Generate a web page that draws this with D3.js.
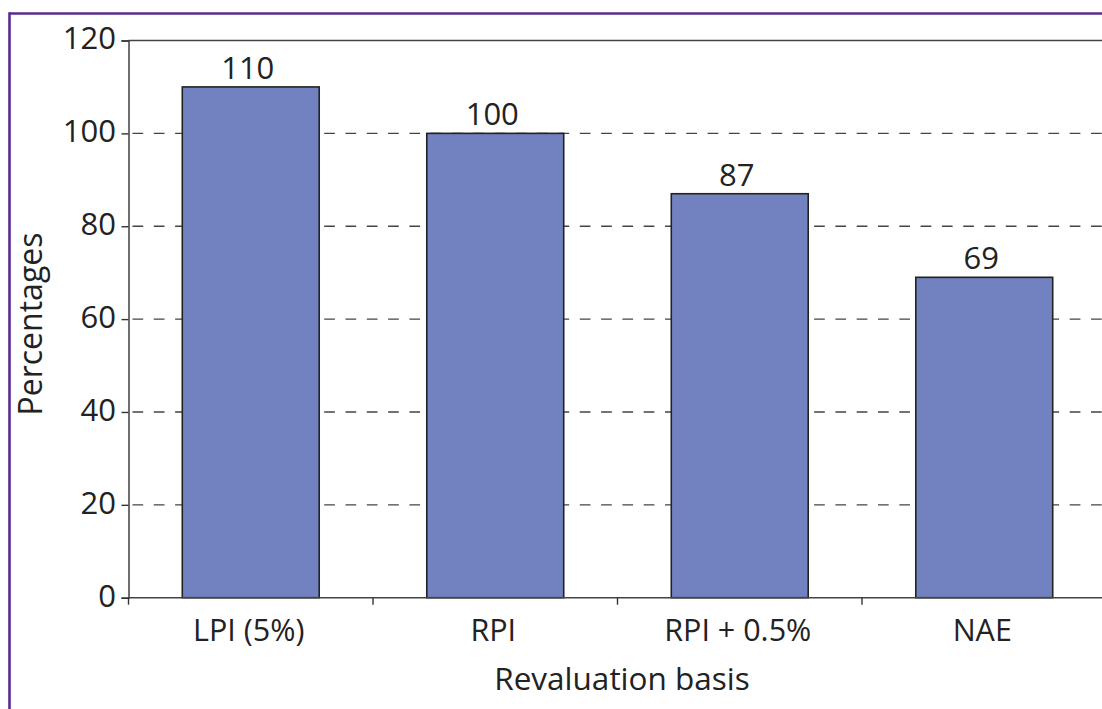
<!DOCTYPE html>
<html><head><meta charset="utf-8">
<script src="https://cdn.jsdelivr.net/npm/d3@7"></script>
<style>
html,body{margin:0;padding:0;background:#fff;}
svg{display:block;font-family:"Open Sans",sans-serif;}
</style></head>
<body>
<script>
const categories = ["LPI (5%)", "RPI", "RPI + 0.5%", "NAE"];
const values = [110, 100, 87, 69];
const yTicks = [0, 20, 40, 60, 80, 100, 120];
const yTitle = "Percentages";
const xTitle = "Revaluation basis";

const W = 1102, H = 709;
const plotL = 128.5, plotR = 1106.5, plotT = 40.5, plotB = 597.7;

const svg = d3.select("body").append("svg").attr("width", W).attr("height", H);

// outer purple frame
svg.append("line").attr("x1", 9.5).attr("x2", W).attr("y1", 13.5).attr("y2", 13.5)
  .attr("stroke", "#5b2a90").attr("stroke-width", 2.6);
svg.append("line").attr("x1", 9.5).attr("x2", 9.5).attr("y1", 12.2).attr("y2", H)
  .attr("stroke", "#5b2a90").attr("stroke-width", 2.6);

const x = d3.scaleBand().domain(categories).range([plotL, plotR]).padding(0);
const y = d3.scaleLinear().domain([0, 120]).range([plotB, plotT]);

// gridlines
svg.append("g").selectAll("line").data(yTicks.filter(t => t > 0 && t < 120)).join("line")
  .attr("x1", plotL).attr("x2", plotR)
  .attr("y1", d => y(d)).attr("y2", d => y(d))
  .attr("stroke", "#444").attr("stroke-width", 1.4)
  .attr("stroke-dasharray", "10.7 10.6").attr("stroke-dashoffset", -4);

// plot frame top
svg.append("line").attr("x1", plotL).attr("x2", plotR).attr("y1", y(120)).attr("y2", y(120))
  .attr("stroke", "#444").attr("stroke-width", 1.4);

// bars
const bw = x.bandwidth() * 0.56;
svg.append("g").selectAll("rect").data(categories).join("rect")
  .attr("x", d => x(d) + (x.bandwidth() - bw) / 2)
  .attr("width", bw)
  .attr("y", (d, i) => y(values[i]))
  .attr("height", (d, i) => y(0) - y(values[i]))
  .attr("fill", "#7282c0").attr("stroke", "#222").attr("stroke-width", 1.6);

// value labels
svg.append("g").selectAll("text").data(categories).join("text")
  .attr("x", d => x(d) + x.bandwidth() / 2 - 3)
  .attr("y", (d, i) => y(values[i]) - 8)
  .attr("text-anchor", "middle")
  .attr("font-size", 31).attr("fill", "#222")
  .text((d, i) => values[i]);

// y axis
const yAxis = svg.append("g").attr("transform", `translate(${plotL},0)`)
  .call(d3.axisLeft(y).tickValues(yTicks).tickSize(7).tickPadding(5.5));
yAxis.select(".domain").attr("stroke", "#333").attr("stroke-width", 1.4);
yAxis.selectAll(".tick line").attr("stroke", "#333").attr("stroke-width", 1.4);
yAxis.selectAll(".tick text").attr("font-size", 31).attr("fill", "#222")
  .attr("font-family", "Open Sans").attr("dy", "0.27em");

// x axis baseline + boundary ticks
const xg = svg.append("g");
xg.append("line").attr("x1", plotL).attr("x2", plotR).attr("y1", y(0)).attr("y2", y(0))
  .attr("stroke", "#444").attr("stroke-width", 1.4);
const bounds = categories.map(c => x(c)).concat([x.range()[1]]);
xg.selectAll("line.tk").data(bounds).join("line").attr("class", "tk")
  .attr("x1", d => d).attr("x2", d => d).attr("y1", y(0)).attr("y2", y(0) + 7)
  .attr("stroke", "#333").attr("stroke-width", 1.4);
xg.selectAll("text").data(categories).join("text")
  .attr("x", d => x(d) + x.bandwidth() / 2 - 2)
  .attr("y", 641)
  .attr("text-anchor", "middle").attr("font-size", 30.5).attr("fill", "#222")
  .text(d => d);

// axis titles
svg.append("text").attr("x", 622).attr("y", 690).attr("text-anchor", "middle")
  .attr("font-size", 31.5).attr("fill", "#222").text(xTitle);
svg.append("text").attr("transform", "translate(42,324) rotate(-90)")
  .attr("text-anchor", "middle").attr("font-size", 32).attr("fill", "#222").text(yTitle);
</script>
</body></html>
